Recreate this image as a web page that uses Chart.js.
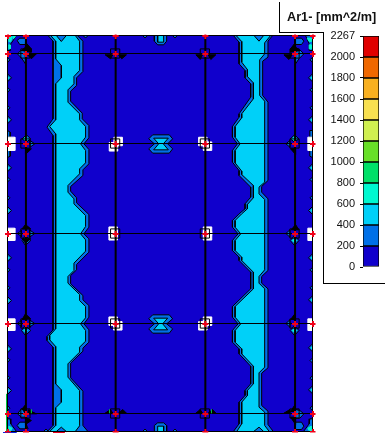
<!DOCTYPE html>
<html>
<head>
<meta charset="utf-8">
<title>Ar1- [mm^2/m]</title>
<script src="https://cdn.jsdelivr.net/npm/chart.js@4"></script>
<style>
  html, body { margin: 0; padding: 0; background: #fff; }
  #wrap { position: relative; width: 385px; height: 441px; overflow: hidden; }
  #plan { position: absolute; left: 0; top: 0; }
  #scale { position: absolute; left: 325px; top: 0; }
  #titleBox { position: absolute; left: 279px; top: 2px; width: 106px; height: 30px; box-sizing: border-box;
    border-left: 1px solid #000; font: bold 12.7px "Liberation Sans", Arial, sans-serif; color: #111;
    padding: 8px 0 0 7px; white-space: nowrap; }
  #titleLine { position: absolute; left: 279px; top: 32px; width: 45px; height: 1px; background: #000; }
  #scaleBox { position: absolute; left: 323px; top: 32px; width: 62px; height: 252px; box-sizing: border-box;
    border-left: 1px solid #000; border-bottom: 1px solid #000; }
</style>
</head>
<body>
<div id="wrap">
  <canvas id="plan" width="385" height="441"></canvas>
  <div id="titleBox">Ar1- [mm^2/m]</div>
  <div id="titleLine"></div>
  <div id="scaleBox"></div>
  <canvas id="scale" width="60" height="283"></canvas>
</div>
<script>
// plan units: 54 per metre, slab is 17 x 22 m
var slabW = 918, slabH = 1188;
var colX = [54, 324, 594, 864];
var colY = [54, 324, 594, 864, 1134];
var beamX = [55.5, 325.5, 595.5, 865.5];
// support nodes
var nodeX = [55.5, 325.5, 595.5, 865.5];
var nodeY = [55.5, 325.5, 595.5, 865.5, 1135.5];
var rimX = [1.5, 55.5, 325.5, 595.5, 865.5, 919.5];
var rimY = [1.5, 1189.5];
var sideX = [1.5, 919.5];

// colour scale
var scaleLabels = ['0', '200', '400', '600', '800', '1000', '1200', '1400', '1600', '1800', '2000', '2267'];
var scaleColors = ['#1000CC', '#0070E8', '#00D0F8', '#00F8D0', '#00E068', '#68E028', '#D0F050', '#F8E050', '#F8B020', '#F06800', '#E00000'];

// band 200-400, left and right strip
var leftOuter = [[122,0],[137,17],[137,250],[119,275],[137,300],[137,883],[119,903],[119,915],[137,935],[137,1170],[120,1188],
  [242,1188],[227,1170],[227,1067],[190,1027],[190,983],[227,947],[227,938],[245,920],[245,883],[230,865],[245,845],[245,810],
  [227,793],[227,780],[190,745],[190,720],[208,703],[208,687],[245,650],[245,610],[230,595],[245,575],[245,537],[208,502],[208,487],
  [190,467],[190,453],[227,420],[227,403],[245,385],[245,342],[230,325],[245,307],[245,270],[225,250],[225,233],[190,197],[190,167],
  [208,150],[208,127],[227,108],[227,17],[210,0]];
var rightOuter = [[680,0],[697,20],[697,85],[715,105],[715,127],[732,145],[732,185],[697,235],[697,245],[677,273],[677,305],[692,325],
  [677,345],[677,380],[697,405],[697,420],[732,455],[732,485],[715,505],[715,520],[697,535],[677,555],[677,575],[694,595],[677,615],
  [677,645],[697,665],[697,675],[732,710],[732,760],[677,813],[677,845],[694,865],[677,885],[677,920],[697,940],[697,955],[732,992],
  [732,1045],[715,1065],[715,1080],[697,1100],[697,1165],[680,1188],[800,1188],[784,1167],[784,1127],[765,1110],[765,1013],[784,997],
  [784,760],[765,743],[765,723],[784,705],[784,490],[765,470],[765,453],[784,435],[784,200],[768,180],[768,77],[784,65],[784,17],[798,0]];

// band 400-600
var leftInner = [[130,0],[145,17],[145,70],[162,90],[162,127],[145,145],[145,253],[127,273],[145,295],[145,880],[127,900],[127,913],
  [145,933],[145,1045],[162,1063],[162,1100],[145,1117],[145,1170],[127,1188],[147,1188],[162,1175],[177,1188],[204,1188],[217,1171],
  [217,1065],[182,1025],[182,985],[217,950],[217,935],[235,917],[235,885],[220,865],[235,847],[235,813],[217,795],[217,777],[182,743],
  [182,723],[200,705],[200,683],[235,647],[235,613],[220,595],[235,573],[235,540],[200,505],[200,490],[182,470],[182,450],[217,415],
  [217,400],[235,382],[235,345],[220,325],[235,305],[235,273],[217,253],[217,235],[182,200],[182,163],[200,145],[200,123],[217,105],
  [217,17],[204,0],[177,0],[162,18],[147,0]];
var rightInner = [[688,0],[705,18],[705,80],[722,102],[722,123],[740,142],[740,190],[705,235],[705,247],[685,273],[685,305],[700,325],
  [685,345],[685,382],[705,407],[705,417],[740,450],[740,487],[722,507],[722,520],[705,535],[685,555],[685,575],[702,595],[685,615],
  [685,645],[705,665],[705,675],[740,710],[740,760],[685,813],[685,845],[702,865],[685,885],[685,920],[705,940],[705,955],[740,992],
  [740,1045],[722,1065],[722,1080],[705,1100],[705,1165],[690,1188],[741,1188],[757,1175],[771,1188],[788,1188],[774,1170],[774,1130],
  [757,1115],[757,1012],[774,995],[774,760],[757,743],[757,723],[774,703],[774,492],[757,475],[757,455],[774,440],[774,197],[759,180],
  [759,73],[774,55],[774,22],[792,0],[771,0],[757,17],[742,0]];

// middle of the slab
var midPatches = [
  [[437,298],[487,298],[497,310],[482,325],[497,340],[487,353],[437,353],[425,340],[442,325],[425,310]],
  [[437,838],[487,838],[497,850],[479,865],[497,880],[487,893],[437,893],[425,880],[442,865],[425,850]],
  [[442,0],[442,17],[452,28],[470,28],[479,17],[479,0]],
  [[442,1188],[442,1170],[452,1162],[470,1162],[479,1170],[479,1188]],
  // pads and small patches beside the edge columns
  [[29,15],[37,8],[57,8],[57,27],[37,27]],
  [[30,55],[40,45],[54,45],[54,85],[44,70]],
  [[57,298],[70,310],[57,320],[44,310]],
  [[68,315],[82,325],[68,335]],
  [[54,600],[70,615],[54,630],[44,615]],
  [[66,583],[82,594],[66,605]],
  [[30,594],[42,585],[42,603]],
  [[54,870],[70,885],[54,900],[42,885]],
  [[66,853],[82,864],[66,875]],
  [[30,864],[42,855],[42,873]],
  [[29,1170],[37,1160],[54,1160],[62,1180],[37,1180]],
  [[30,1135],[42,1120],[54,1125],[54,1145],[42,1145]],
  [[864,8],[885,8],[892,17],[885,27],[864,27]],
  [[867,45],[882,45],[892,55],[877,70],[867,85]],
  [[864,298],[877,310],[864,320],[851,310]],
  [[850,315],[838,325],[850,335]],
  [[864,600],[877,615],[864,630],[851,615]],
  [[850,583],[838,594],[850,605]],
  [[864,870],[877,885],[864,900],[851,885]],
  [[850,853],[838,864],[850,875]],
  [[864,1160],[885,1160],[892,1172],[885,1182],[864,1182]],
  [[867,1122],[880,1125],[892,1135],[880,1148],[867,1148]],
  // slab corners and edge strips
  [[0,0],[27,0],[10,25],[8,45],[0,45]],
  [[897,0],[918,0],[918,45],[910,45],[908,25]],
  [[0,1150],[8,1150],[10,1165],[27,1188],[0,1188]],
  [[918,1150],[910,1150],[908,1165],[891,1188],[918,1188]],
  [[0,285],[8,290],[8,305],[0,305]],
  [[0,345],[8,345],[8,362],[0,366]],
  [[910,285],[918,285],[918,305],[910,305]],
  [[910,345],[918,345],[918,366],[910,362]]
];
var cyanPatches = [
  [[440,308],[484,308],[469,325],[484,343],[440,343],[455,325]],
  [[440,848],[482,848],[467,865],[482,883],[440,883],[455,865]],
  [[452,0],[452,20],[470,20],[470,0]],
  [[452,1188],[452,1172],[470,1172],[470,1188]]
];
var tealPatches = [
  [[4,4],[14,4],[10,18],[4,18]], [[16,3],[24,3],[18,10]], [[4,28],[8,28],[8,40],[4,40]],
  [[902,8],[914,8],[914,18],[908,18]], [[908,28],[914,28],[914,40],[908,40]],
  [[4,1172],[14,1178],[10,1186],[4,1186]], [[904,1178],[914,1172],[914,1186],[908,1186]],
  [[54,304],[62,310],[54,316],[49,310]],
  [[54,610],[60,615],[54,620],[49,615]],
  [[54,880],[60,885],[54,890],[49,885]],
  [[864,304],[870,310],[864,316],[857,310]],
  [[864,610],[870,615],[864,620],[857,615]],
  [[864,880],[870,885],[864,890],[857,885]]
];
var blackPatches = [
  [[54,20],[72,40],[72,50],[42,45],[54,35]], [[57,55],[87,55],[72,70]],
  [[54,340],[72,340],[54,357]],
  [[54,567],[70,580],[44,580]], [[44,610],[70,610],[54,623]],
  [[54,835],[70,850],[44,852]],
  [[54,1108],[44,1120],[54,1135]], [[54,1145],[72,1155],[54,1167]], [[62,1123],[87,1135],[62,1135]],
  [[294,58],[317,58],[310,70]], [[334,58],[358,58],[344,70]],
  [[567,58],[587,58],[580,72]], [[604,58],[627,58],[612,72]],
  [[294,1133],[310,1122],[317,1133]], [[334,1133],[347,1122],[358,1133]],
  [[567,1133],[580,1122],[587,1133]], [[604,1133],[617,1122],[627,1133]],
  [[867,20],[852,40],[852,50],[882,45],[867,35]], [[832,58],[857,58],[847,72]],
  [[852,340],[867,340],[867,357]],
  [[867,567],[877,583],[854,583]],
  [[865,835],[852,852],[867,852]],
  [[852,1145],[867,1145],[867,1167]], [[865,1108],[852,1128],[867,1128]], [[832,1133],[850,1133],[850,1122]]
];
var whitePatches = [
  [[0,305],[22,305],[22,345],[0,345]], [[0,578],[22,578],[22,615],[0,615]], [[0,850],[22,850],[22,885],[0,885]],
  [[904,305],[918,305],[918,345],[904,345]], [[904,578],[918,578],[918,615],[904,615]], [[904,850],[918,850],[918,885],[904,885]]
];

// small marks along the edges
var edgeSmall = [[0,73],[0,163],[0,217],[0,432],[0,487],[0,703],[0,757],[0,973],[0,1027],[0,1118],
  [918,73],[918,163],[918,217],[918,432],[918,487],[918,703],[918,757],[918,975],[918,1028],[918,1118],
  [235,0],[414,0],[504,0],[414,1188],[504,1188],[116,1188]];
var edgeBig = [[0,127],[0,253],[0,397],[0,525],[0,667],[0,795],[0,940],[0,1065],
  [918,127],[918,253],[918,397],[918,525],[918,667],[918,793],[918,937],[918,1063]];

// white corners round the inner columns of the middle rows
var whiteSquares = [[333,318],[319,334],[588,318],[602,332],[318,587],[318,601],[602,587],[602,601],[318,857],[332,871],[602,857],[588,871]];

// local axes at the slab corner
var axisGreen = [[-3,1075],[-3,1188]];
var axisBlue = [[-13,1191],[27,1191]];
var axisRed = [[137,1191],[172,1191]];
var greenTicks = [[[72,1122],[72,1133]], [[307,1122],[307,1133]], [[614,1122],[614,1133]]];

function fillFrom(ptsX, ptsY) {
  var out = [];
  ptsX.forEach(function(x) { ptsY.forEach(function(y) { out.push([x, y]); }); });
  return out;
}

function polygon(pts, fill, stroke, width) {
  return {
    type: 'scatter',
    data: pts.concat([pts[0]]),
    showLine: true,
    tension: 0,
    fill: fill ? 'shape' : false,
    backgroundColor: fill || 'transparent',
    borderColor: stroke || fill,
    borderWidth: width === undefined ? 1 : width,
    pointRadius: 0,
    clip: false
  };
}

function marks(pts, style, radius, fill, stroke, extra) {
  return Object.assign({
    type: 'scatter',
    data: pts,
    showLine: false,
    pointStyle: style,
    pointRadius: radius,
    pointBackgroundColor: fill,
    pointBorderColor: stroke,
    pointBorderWidth: 1
  }, extra || {});
}

var layers = [];
layers.push(polygon([[0,0],[slabW,0],[slabW,slabH],[0,slabH]], scaleColors[0], '#000', 0));
layers.push(polygon(leftOuter, scaleColors[1], '#000'));
layers.push(polygon(rightOuter, scaleColors[1], '#000'));
layers.push(polygon(leftInner, scaleColors[2], '#000'));
layers.push(polygon(rightInner, scaleColors[2], '#000'));
midPatches.forEach(function(p) { layers.push(polygon(p, scaleColors[1], '#000')); });
cyanPatches.forEach(function(p) { layers.push(polygon(p, scaleColors[2], '#000')); });
tealPatches.forEach(function(p) { layers.push(polygon(p, scaleColors[3])); });
blackPatches.forEach(function(p) { layers.push(polygon(p, '#000')); });
layers.push(marks(edgeSmall, 'rectRot', 2.5, scaleColors[1], '#000'));
layers.push(marks(edgeBig, 'rectRot', 4, scaleColors[1], '#000'));
layers.push(marks(edgeBig, 'rectRot', 1.5, scaleColors[3], scaleColors[3]));
whitePatches.forEach(function(p) { layers.push(polygon(p, '#fff')); });
layers.push(marks(whiteSquares, 'rect', 6, '#fff', '#fff'));
layers.push(marks(fillFrom(colX, colY), 'rect', 6.5, 'transparent', '#000'));
beamX.forEach(function(x) { layers.push(polygon([[x,0],[x,slabH]], null, '#000', 2)); });
colY.forEach(function(y) { layers.push(polygon([[0,y],[slabW,y]], null, '#000', 1)); });
layers.push(polygon([[0,0],[slabW,0],[slabW,slabH],[0,slabH]], null, '#000', 1));
greenTicks.forEach(function(p) { layers.push(polygon(p, null, '#00C040', 1)); });
layers.push(polygon(axisGreen, null, '#00C040', 1));
layers.push(polygon(axisBlue, null, '#1020E0', 1));
layers.push(polygon(axisRed, null, '#E8001C', 1));
layers.push(marks(fillFrom(nodeX, nodeY).concat(fillFrom(rimX, rimY), fillFrom(sideX, nodeY)),
  'cross', 3, '#F00018', '#F00018', { pointBorderWidth: 2, clip: { left: 3, right: 3, top: 1, bottom: 1 } }));

// first dataset is drawn last in chart.js, so turn the stack round
layers.reverse();

Chart.defaults.animation = false;

new Chart(document.getElementById('plan'), {
  type: 'scatter',
  data: { datasets: layers },
  options: {
    responsive: false,
    layout: { padding: { left: 6.5, right: 72.5, top: 35.5, bottom: 9.5 } },
    plugins: { legend: { display: false }, tooltip: { enabled: false } },
    scales: {
      x: { type: 'linear', display: false, min: 0, max: slabW },
      y: { type: 'linear', display: false, min: 0, max: slabH, reverse: true }
    }
  }
});

new Chart(document.getElementById('scale'), {
  type: 'bar',
  data: {
    labels: ['Ar1-'],
    datasets: scaleColors.map(function(c, i) {
      return {
        data: [[i, i + 1]],
        backgroundColor: c,
        borderColor: '#000',
        borderWidth: 1,
        borderSkipped: false,
        categoryPercentage: 1,
        barPercentage: 1,
        grouped: false
      };
    })
  },
  options: {
    responsive: false,
    layout: { padding: { left: 0, right: 6, top: 36, bottom: 16 } },
    plugins: { legend: { display: false }, tooltip: { enabled: false } },
    scales: {
      x: { display: false },
      y: {
        min: 0, max: 11,
        afterFit: function(s) { s.width = 38; },
        border: { display: false },
        grid: { drawOnChartArea: false, color: '#000', tickLength: 3 },
        ticks: {
          stepSize: 1, padding: 5, color: '#111', autoSkip: false,
          font: { family: '"Liberation Sans", Arial, sans-serif', size: 11 },
          callback: function(v) { return scaleLabels[v]; }
        }
      }
    }
  }
});
</script>
</body>
</html>
